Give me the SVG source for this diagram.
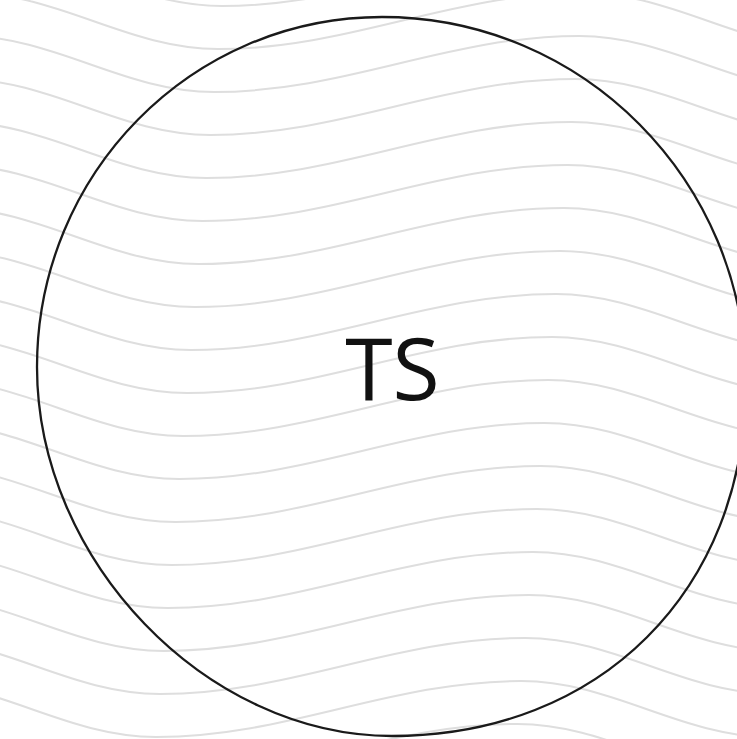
<svg xmlns="http://www.w3.org/2000/svg" width="737" height="739" viewBox="0 0 737 739">
  <style>
    .wave { fill: none; stroke: #dedede; stroke-width: 2; }
    .ring { fill: none; stroke: #1a1a1a; stroke-width: 2.3; }
    .label { font-family: "Open Sans", "Liberation Sans", sans-serif; font-size: 86px; fill: #111111; text-anchor: middle; }
  </style>
  <defs>
    <path id="wave" class="wave" d="M -1230 28 C -1097.4 28 -997.6 -28 -865 -28 C -774.1 -28 -705.9 28 -615 28 C -482.4 28 -382.6 -28 -250 -28 C -159.1 -28 -90.9 28 0 28 C 132.6 28 232.4 -28 365 -28 C 455.9 -28 524.1 28 615 28 C 747.6 28 847.4 -28 980 -28 C 1070.9 -28 1139.1 28 1230 28"/>
  </defs>
  <rect x="0" y="0" width="737" height="739" fill="#ffffff"/>
  <g id="background-waves">
    <use href="#wave" transform="translate(222,-22)"/>
    <use href="#wave" transform="translate(218.1,21)"/>
    <use href="#wave" transform="translate(214.2,64)"/>
    <use href="#wave" transform="translate(210.4,107)"/>
    <use href="#wave" transform="translate(206.5,150)"/>
    <use href="#wave" transform="translate(202.6,193)"/>
    <use href="#wave" transform="translate(198.8,236)"/>
    <use href="#wave" transform="translate(194.9,279)"/>
    <use href="#wave" transform="translate(191,322)"/>
    <use href="#wave" transform="translate(187.2,365)"/>
    <use href="#wave" transform="translate(183.3,408)"/>
    <use href="#wave" transform="translate(179.4,451)"/>
    <use href="#wave" transform="translate(175.5,494)"/>
    <use href="#wave" transform="translate(171.7,537)"/>
    <use href="#wave" transform="translate(167.8,580)"/>
    <use href="#wave" transform="translate(163.9,623)"/>
    <use href="#wave" transform="translate(160.1,666)"/>
    <use href="#wave" transform="translate(156.2,709)"/>
    <use href="#wave" transform="translate(152.3,752)"/>
  </g>
  <g id="node-ts">
    <path class="ring" d="M 37 367 C 37 173.7 191.5 17 382 17 C 583 17 746 180.9 746 383 C 746 590.2 599.8 736 392 736 C 206 736 37 560.4 37 367 Z"/>
    <text class="label" x="392.5" y="400">TS</text>
  </g>
</svg>
